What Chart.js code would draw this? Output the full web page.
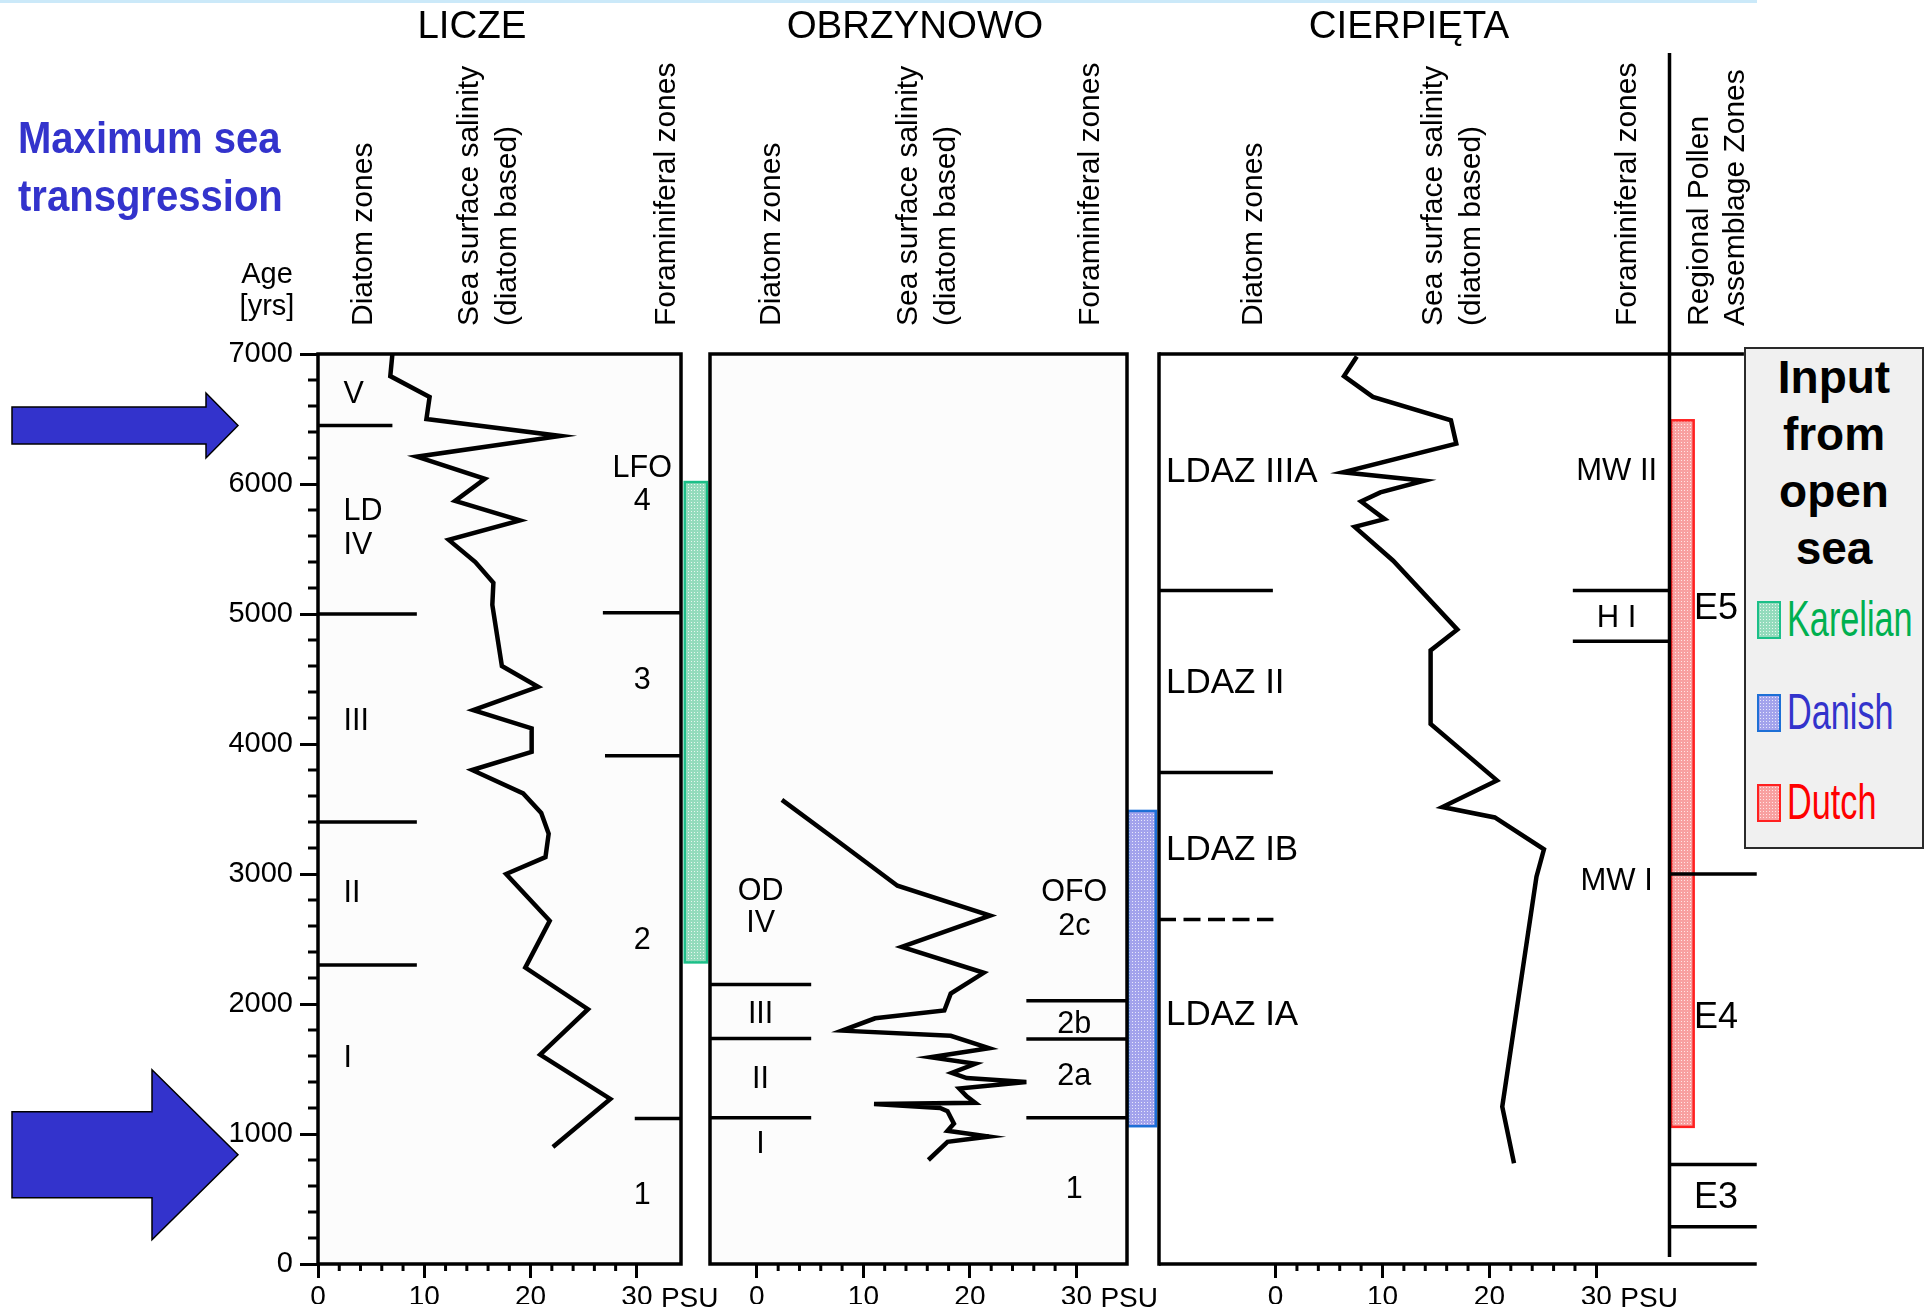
<!DOCTYPE html>
<html lang="pl">
<head>
<meta charset="UTF-8">
<title>Licze, Obrzynowo, Cierpięta</title>
<script src="https://cdn.jsdelivr.net/npm/chart.js"></script>
<style>
  body { margin: 0; width: 1927px; height: 1310px; position: relative; overflow: hidden;
         background: #fff; color: #000; font-family: "Liberation Sans", Arial, Helvetica, sans-serif; }
  canvas { position: absolute; left: 0; top: 0; }
  .t { position: absolute; white-space: pre; }
  .title { top: 5px; width: 340px; text-align: center; font-size: 38.5px; line-height: 40px; }
  .rot { position: absolute; white-space: pre; top: 326px; font-size: 30px; line-height: 38px;
         transform: rotate(-90deg); transform-origin: 0 0; }
  #topline { position: absolute; left: 0; top: 0; width: 1757px; height: 3px; background: #cbe9f9; }
  #legend { position: absolute; left: 1744px; top: 347px; width: 180px; height: 502px;
            box-sizing: border-box; background: #f0f0f0; border: 2.5px solid #2a2a2a; }
  .sw { position: absolute; left: 1757px; width: 24px; height: 38px; box-sizing: border-box;
        border: 2px solid; background-size: 3px 3px; }
  .lg { position: absolute; left: 1787px; font-size: 50px; line-height: 50px;
        transform: scaleX(0.685); transform-origin: 0 0; }
</style>
</head>
<body>
<div id="topline"></div>
<canvas id="licze" width="1927" height="1310"></canvas>
<canvas id="obrzynowo" width="1927" height="1310"></canvas>
<canvas id="cierpieta" width="1927" height="1310"></canvas>

<div class="t" style="left:18px; top:109px; font-size:44px; line-height:58px; font-weight:bold; color:#3333cc; transform:scaleX(0.91); transform-origin:0 0;">Maximum sea
transgression</div>
<div class="t" style="left:217px; top:257px; width:100px; text-align:center; font-size:29px; line-height:32px;">Age
[yrs]</div>

<div class="t title" style="left:302px">LICZE</div>
<div class="t title" style="left:745px">OBRZYNOWO</div>
<div class="t title" style="left:1239px">CIERPIĘTA</div>

<div class="rot" style="left:342.5px">Diatom zones</div>
<div class="rot" style="left:449px">Sea surface salinity
(diatom based)</div>
<div class="rot" style="left:645.5px">Foraminiferal zones</div>
<div class="rot" style="left:751px">Diatom zones</div>
<div class="rot" style="left:888px">Sea surface salinity
(diatom based)</div>
<div class="rot" style="left:1070px">Foraminiferal zones</div>
<div class="rot" style="left:1233px">Diatom zones</div>
<div class="rot" style="left:1413px">Sea surface salinity
(diatom based)</div>
<div class="rot" style="left:1607px">Foraminiferal zones</div>
<div class="rot" style="left:1680px; line-height:36px;">Regional Pollen
Assemblage Zones</div>

<div id="legend"></div>
<div class="t" style="left:1744px; top:349px; width:180px; text-align:center; font-size:46px; line-height:57px; font-weight:bold;">Input
from
open
sea</div>
<div class="sw" style="top:601px; border-color:#1bbf88; background-color:#93dbbc; background-image:radial-gradient(circle at 1.5px 1.5px, #e6f7ef 0.7px, transparent 0.9px);"></div>
<div class="sw" style="top:694px; border-color:#1d6fd6; background-color:#a3a3ec; background-image:radial-gradient(circle at 1.5px 1.5px, #e8e8fb 0.7px, transparent 0.9px);"></div>
<div class="sw" style="top:784px; border-color:#ff2020; background-color:#f8a0a0; background-image:radial-gradient(circle at 1.5px 1.5px, #ffe4e4 0.7px, transparent 0.9px);"></div>
<div class="lg" style="top:594px; color:#00b050;">Karelian</div>
<div class="lg" style="top:687px; color:#3333cc;">Danish</div>
<div class="lg" style="top:777px; color:#ff0000;">Dutch</div>

<script>
// ---------- data ----------
const ageTicks = [0, 1000, 2000, 3000, 4000, 5000, 6000, 7000];
const psuTicks = [0, 10, 20, 30];

// LICZE
const liczeAge = [7000, 6830, 6670, 6500, 6370, 6210, 6040, 5870, 5720, 5570, 5400, 5240, 5070, 4600, 4440,
                  4260, 4120, 3940, 3800, 3620, 3470, 3310, 3130, 3000, 2640, 2280, 1960, 1610, 1270, 900];
const liczeSal = [7.0, 6.8, 10.5, 10.2, 22.8, 9.3, 15.7, 12.9, 19.0, 12.3, 14.8, 16.5, 16.4, 17.3, 20.7,
                  14.6, 20.1, 20.1, 14.5, 19.3, 21.0, 21.7, 21.4, 17.7, 21.8, 19.5, 25.4, 20.9, 27.5, 22.1];
const liczeDiatomBounds = [6450, 5000, 3400, 2300];
const liczeDiatomNames = ['V', 'LD\nIV', 'III', 'II', 'I'];
const liczeDiatomAt = [6710, 5675, 4195, 2868, 1603];
const liczeForamBounds = [5010, 3910, 1120];
const liczeForamNames = ['LFO\n4', '3', '2', '1'];
const liczeForamAt = [6010, 4506, 2508, 546];
const karelianAge = [2320, 6015];

// OBRZYNOWO
const obrAge = [3570, 3240, 2910, 2680, 2440, 2240, 2080, 1950, 1890, 1795, 1755, 1660, 1590, 1540,
                1470, 1430, 1400, 1350, 1290, 1240, 1230, 1200, 1175, 1080, 1025, 980, 940, 800];
const obrSal = [2.35, 7.8, 13.2, 21.9, 13.6, 21.3, 18.2, 17.6, 11.1, 8.0, 18.2, 21.8, 16.3, 20.5,
                18.3, 19.7, 25.3, 19.0, 19.7, 20.5, 11.0, 17.2, 17.9, 18.5, 17.9, 21.8, 17.9, 16.1];
const obrDiatomBounds = [2150, 1735, 1125];
const obrDiatomNames = ['OD\nIV', 'III', 'II', 'I'];
const obrDiatomAt = [2763, 1934, 1434, 934];
const obrForamBounds = [2025, 1730, 1125];
const obrForamNames = ['OFO\n2c', '2b', '2a', '1'];
const obrForamAt = [2742, 1864, 1461, 592];
const danishAge = [1060, 3485];

// CIERPIĘTA
const ciAge = [6980, 6830, 6670, 6490, 6310, 6090, 6025, 5935, 5865, 5730, 5670, 5410, 4880, 4720,
               4155, 3720, 3515, 3435, 3190, 2980, 1210, 775];
const ciSal = [7.6, 6.4, 9.1, 16.4, 16.9, 6.3, 13.9, 9.8, 8.0, 10.2, 7.4, 11.0, 17.0, 14.5,
               14.5, 20.7, 15.6, 20.5, 25.1, 24.4, 21.2, 22.3];
const ciDiatomBounds = [5180, 3780];
const ciDiatomDashed = [2650];
const ciDiatomNames = ['LDAZ IIIA', 'LDAZ II', 'LDAZ IB', 'LDAZ IA'];
const ciDiatomAt = [6112, 4492, 3201, 1935];
const ciForamBounds = [5180, 4790];
const ciForamNames = ['MW II', 'H I', 'MW I'];
const ciForamAt = [6118, 4985, 2962];
const dutchAge = [1055, 6490];
const pollenBounds = [3000, 765, 287];
const pollenNames = ['E5', 'E4', 'E3'];
const pollenAt = [5060, 1915, 530];

// ---------- layout ----------
const W = 1927, H = 1310;
const AGE_TOP = 354, AGE_BOTTOM = 1264, XAXIS_H = 40, YAXIS_W = 90;
const FONT = '"Liberation Sans", Arial, Helvetica, sans-serif';
Chart.defaults.font.family = FONT;
Chart.defaults.color = '#000';

const panels = [
  {
    canvas: 'licze', left: 318, right: 681, xmin: 0, xmax: 34.15, showAge: true, fill: '#fcfcfc', box: true,
    age: liczeAge, sal: liczeSal,
    lines: [
      { ages: liczeDiatomBounds, x0: 0, x1: [7.0, 9.3, 9.3, 9.3] },
      { ages: liczeForamBounds, x0: [26.8, 27.0, 29.8], x1: 34.15 }
    ],
    labels: [
      { names: liczeDiatomNames, at: liczeDiatomAt, x: 2.4, align: 'left', size: 30.5, lh: 33.5 },
      { names: liczeForamNames, at: liczeForamAt, x: 30.5, align: 'center', size: 30.5, lh: 33 }
    ],
    bar: { ages: karelianAge, x0: 34.5, x1: 36.6, base: '#93dbbc', dot: '#e6f7ef', edge: '#1bbf88' },
    arrows: [ { age: 6450, base: 206, h1: 18.5, h2: 32.5 }, { age: 840, base: 152, h1: 43, h2: 85 } ]
  },
  {
    canvas: 'obrzynowo', left: 710, right: 1127, xmin: -4.4, xmax: 34.75, fill: '#fcfcfc', box: true,
    age: obrAge, sal: obrSal,
    lines: [
      { ages: obrDiatomBounds, x0: -4.4, x1: 5.1 },
      { ages: obrForamBounds, x0: 25.3, x1: 34.75 }
    ],
    labels: [
      { names: obrDiatomNames, at: obrDiatomAt, x: 0.35, align: 'center', size: 30.5, lh: 32 },
      { names: obrForamNames, at: obrForamAt, x: 29.8, align: 'center', size: 30.5, lh: 34 }
    ],
    bar: { ages: danishAge, x0: 34.85, x1: 37.45, base: '#a3a3ec', dot: '#e8e8fb', edge: '#1d6fd6' }
  },
  {
    canvas: 'cierpieta', left: 1159, right: 1669.5, xmin: -10.9, xmax: 36.84, box: false,
    age: ciAge, sal: ciSal,
    lines: [
      { ages: ciDiatomBounds, x0: -10.9, x1: -0.25 },
      { ages: ciDiatomDashed, x0: -10.9, x1: -0.2, dash: [17, 7.5] },
      { ages: ciForamBounds, x0: 27.8, x1: 36.84 },
      { ages: pollenBounds, x0: 36.84, x1: 45.0 }
    ],
    labels: [
      { names: ciDiatomNames, at: ciDiatomAt, x: -10.25, align: 'left', size: 35, lh: 36 },
      { names: ciForamNames, at: ciForamAt, x: 31.9, align: 'center', size: 31, lh: 33 },
      { names: pollenNames, at: pollenAt, x: 41.2, align: 'center', size: 36, lh: 40 }
    ],
    bar: { ages: dutchAge, x0: 37.0, x1: 39.1, base: '#f8a0a0', dot: '#ffe4e4', edge: '#ff2020' },
    open: { topTo: 43.8, bottomTo: 45.0, pollenTop: 53 }
  }
];

function tile(base, dot) {
  const c = document.createElement('canvas');
  c.width = 3; c.height = 3;
  const g = c.getContext('2d');
  g.fillStyle = base; g.fillRect(0, 0, 3, 3);
  g.fillStyle = dot; g.fillRect(1, 1, 1, 1);
  return c;
}

function seg(ctx, x0, y0, x1, y1) {
  ctx.beginPath(); ctx.moveTo(x0, y0); ctx.lineTo(x1, y1); ctx.stroke();
}

function arrow(ctx, tipY, baseX, h1, h2) {
  const tipX = 238, tailX = 12;
  ctx.beginPath();
  ctx.moveTo(tailX, tipY - h1); ctx.lineTo(baseX, tipY - h1); ctx.lineTo(baseX, tipY - h2);
  ctx.lineTo(tipX, tipY); ctx.lineTo(baseX, tipY + h2); ctx.lineTo(baseX, tipY + h1);
  ctx.lineTo(tailX, tipY + h1); ctx.closePath();
  ctx.fillStyle = '#3333cc'; ctx.fill();
  ctx.lineWidth = 1.5; ctx.strokeStyle = '#000'; ctx.stroke();
}

function panelPlugin(p) {
  return {
    id: 'panel_' + p.canvas,
    beforeDraw(chart) {
      const { ctx, chartArea: a, scales: { y } } = chart;
      ctx.save();
      if (p.fill) { ctx.fillStyle = p.fill; ctx.fillRect(a.left, a.top, a.right - a.left, a.bottom - a.top); }
      (p.arrows || []).forEach(ar => arrow(ctx, y.getPixelForValue(ar.age), ar.base, ar.h1, ar.h2));
      ctx.restore();
    },
    afterDraw(chart) {
      const { ctx, chartArea: a, scales: { x, y } } = chart;
      const X = v => x.getPixelForValue(v), Y = v => y.getPixelForValue(v);
      ctx.save();
      ctx.lineCap = 'butt';

      // open-sea input bar
      const b = p.bar;
      ctx.fillStyle = ctx.createPattern(tile(b.base, b.dot), 'repeat');
      ctx.fillRect(X(b.x0), Y(b.ages[1]), X(b.x1) - X(b.x0), Y(b.ages[0]) - Y(b.ages[1]));
      ctx.strokeStyle = b.edge; ctx.lineWidth = 2.5;
      ctx.strokeRect(X(b.x0), Y(b.ages[1]), X(b.x1) - X(b.x0), Y(b.ages[0]) - Y(b.ages[1]));

      ctx.strokeStyle = '#000';
      // minor ticks
      ctx.lineWidth = 3;
      for (let v = 2; v < 30; v += 2) if (v % 10) seg(ctx, X(v), a.bottom, X(v), a.bottom + 7);
      if (p.showAge) for (let v = 200; v < 7000; v += 200) if (v % 1000) seg(ctx, a.left - 10, Y(v), a.left, Y(v));

      // frame
      ctx.lineWidth = 3.5;
      if (p.box) {
        ctx.strokeRect(a.left, a.top, a.right - a.left, a.bottom - a.top);
      } else {
        const o = p.open;
        seg(ctx, a.left, a.top - 1.75, a.left, a.bottom + 1.75);
        seg(ctx, a.left, a.top, X(o.topTo), a.top);
        seg(ctx, a.left, a.bottom, X(o.bottomTo), a.bottom);
        seg(ctx, a.right, o.pollenTop, a.right, a.bottom - 7);
      }

      // zone boundaries
      ctx.lineWidth = 3.5;
      p.lines.forEach(l => {
        ctx.setLineDash(l.dash || []);
        l.ages.forEach((ag, i) => {
          const x0 = Array.isArray(l.x0) ? l.x0[i] : l.x0;
          const x1 = Array.isArray(l.x1) ? l.x1[i] : l.x1;
          seg(ctx, X(x0), Y(ag), X(x1), Y(ag));
        });
      });
      ctx.setLineDash([]);

      // zone labels
      ctx.fillStyle = '#000';
      ctx.textBaseline = 'alphabetic';
      p.labels.forEach(g => {
        ctx.font = g.size + 'px ' + FONT;
        ctx.textAlign = g.align;
        g.names.forEach((name, i) => {
          const rows = name.split('\n');
          rows.forEach((r, k) => {
            const cy = Y(g.at[i]) + (k - (rows.length - 1) / 2) * g.lh;
            ctx.fillText(r, X(g.x), cy + 0.358 * g.size);
          });
        });
      });

      // unit next to the last x tick
      ctx.font = '28px ' + FONT;
      ctx.textAlign = 'left';
      ctx.fillText('PSU', X(30) + 24, 1307);
      ctx.restore();
    }
  };
}

function makePanel(p) {
  const pts = p.age.map((a, i) => ({ x: p.sal[i], y: a }));
  return new Chart(document.getElementById(p.canvas), {
    type: 'scatter',
    data: {
      datasets: [{
        data: pts, showLine: true, borderColor: '#000', borderWidth: 4.5,
        pointRadius: 0, tension: 0, borderJoinStyle: 'miter'
      }]
    },
    options: {
      responsive: false, animation: false, events: [], devicePixelRatio: 1,
      layout: {
        padding: {
          left: p.showAge ? p.left - YAXIS_W : p.left,
          right: W - p.right, top: AGE_TOP, bottom: H - AGE_BOTTOM - XAXIS_H
        }
      },
      plugins: { legend: { display: false }, tooltip: { enabled: false } },
      scales: {
        x: {
          type: 'linear', position: 'bottom', min: p.xmin, max: p.xmax,
          afterBuildTicks: s => { s.ticks = psuTicks.map(v => ({ value: v })); },
          afterFit: s => { s.height = XAXIS_H; s.paddingLeft = 0; s.paddingRight = 0; },
          grid: { drawOnChartArea: false, drawTicks: true, tickLength: 14, lineWidth: 3, color: '#000' },
          border: { display: false },
          ticks: { font: { size: 28 }, color: '#000', padding: 2, maxRotation: 0, autoSkip: false,
                   callback: v => String(v) }
        },
        y: {
          type: 'linear', min: 0, max: 7000, display: !!p.showAge,
          afterBuildTicks: s => { s.ticks = ageTicks.map(v => ({ value: v })); },
          afterFit: s => { s.width = p.showAge ? YAXIS_W : 0; s.paddingTop = 0; s.paddingBottom = 0; },
          grid: { drawOnChartArea: false, drawTicks: true, tickLength: 18, lineWidth: 3, color: '#000' },
          border: { display: false },
          ticks: { font: { size: 29 }, color: '#000', padding: 7, autoSkip: false,
                   callback: v => String(v) }
        }
      }
    },
    plugins: [panelPlugin(p)]
  });
}

panels.forEach(makePanel);
</script>
</body>
</html>
